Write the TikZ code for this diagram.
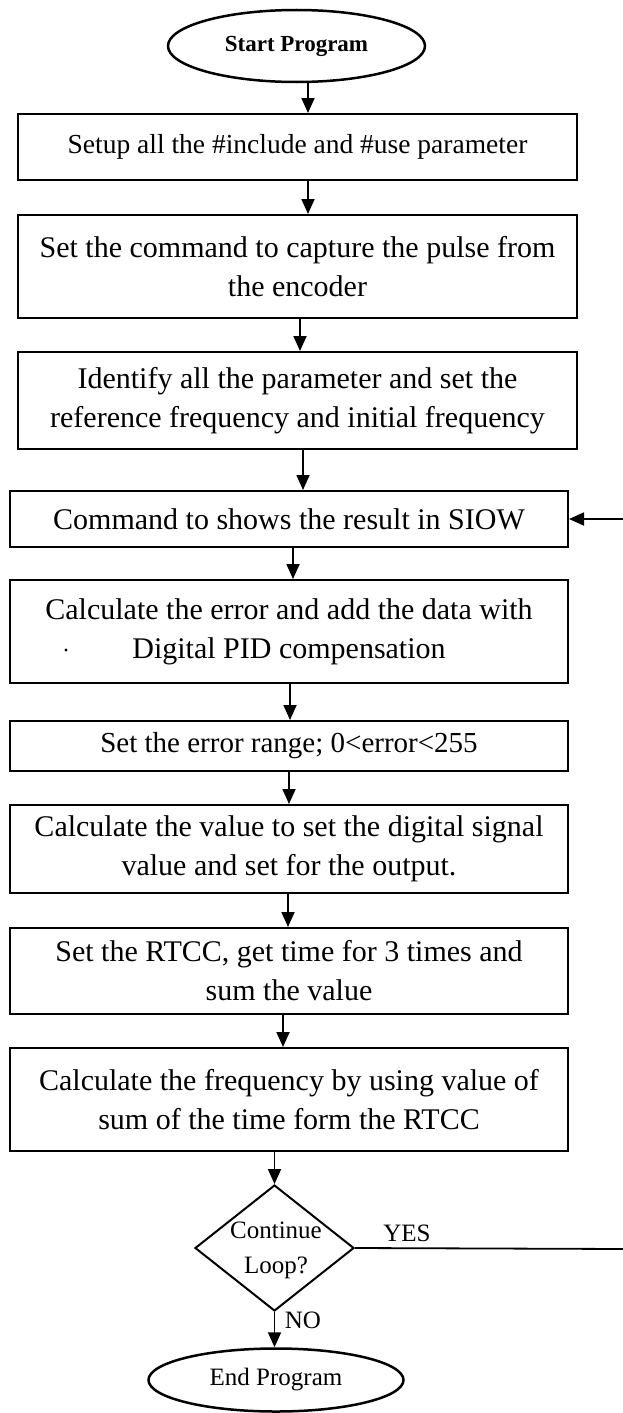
\documentclass[tikz,border=0pt]{standalone}
\usepackage{fontspec}
\setmainfont{Liberation Serif}
\usetikzlibrary{shapes.geometric,arrows.meta}
\begin{document}
\begin{tikzpicture}[x=1pt,y=-1pt,
  box/.style={draw,line width=2pt,rectangle,inner sep=0pt,align=center,font=\fontsize{30}{39}\selectfont},
  oval/.style={draw,line width=2.5pt,ellipse,inner sep=0pt},
  dec/.style={draw,line width=2pt,diamond,inner sep=0pt},
  arr/.style={line width=1.8pt,-{Triangle[length=15pt,width=13pt]}},
  lbl/.style={font=\fontsize{25}{35}\selectfont}]
\useasboundingbox (0,0) rectangle (623,1413);
\node[oval,minimum width=257pt,minimum height=72pt,font=\bfseries\fontsize{23}{28}\selectfont] (s) at (296.5,46) {Start Program};
\node[box,minimum width=559pt,minimum height=66pt,font=\fontsize{27.5}{36}\selectfont] (b1) at (297.5,147) {Setup all the \#include and \#use parameter};
\node[box,minimum width=559pt,minimum height=103pt] (b2) at (297.5,266.5) {Set the command to capture the pulse from\\the encoder};
\node[box,minimum width=559pt,minimum height=97pt] (b3) at (297.5,400.5) {Identify all the parameter and set the\\reference frequency and initial frequency};
\node[box,minimum width=558pt,minimum height=56pt] (b4) at (289,519) {Command to shows the result in SIOW};
\node[box,minimum width=558pt,minimum height=103pt] (b5) at (289,631.5) {Calculate the error and add the data with\\Digital PID compensation};
\node[box,minimum width=558pt,minimum height=50pt,font=\fontsize{29}{38}\selectfont] (b6) at (289,746) {Set the error range; 0<error<255};
\node[box,minimum width=558pt,minimum height=88pt] (b7) at (289,849) {Calculate the value to set the digital signal\\value and set for the output.};
\node[box,minimum width=558pt,minimum height=86pt] (b8) at (289,971) {Set the RTCC, get time for 3 times and\\sum the value};
\node[box,minimum width=558pt,minimum height=103pt] (b9) at (289,1099.5) {Calculate the frequency by using value of\\sum of the time form the RTCC};
\node[dec,minimum width=159pt,minimum height=126pt] (d) at (274.5,1248) {};
\node[lbl,align=center] (dt) at (276,1250) {Continue\\Loop?};
\node[oval,minimum width=255pt,minimum height=63pt,font=\fontsize{25}{30}\selectfont] (e) at (276,1380) {End Program};
\node[lbl] (yes) at (407,1233) {YES};
\node[lbl] (no) at (303,1320) {NO};
\fill (66,650) circle (1.6pt);
\coordinate (fb) at (627,1249);
\draw[arr] ([xshift=11.5pt]s.south) -- ([xshift=11.5pt]s.south |- b1.north);
\draw[arr] ([xshift=10.5pt]b1.south) -- ([xshift=10.5pt]b1.south |- b2.north);
\draw[arr] ([xshift=2.5pt]b2.south) -- ([xshift=2.5pt]b2.south |- b3.north);
\draw[arr] ([xshift=5.5pt]b3.south) -- ([xshift=5.5pt]b3.south |- b4.north);
\draw[arr] ([xshift=4pt]b4.south) -- ([xshift=4pt]b4.south |- b5.north);
\draw[arr] ([xshift=1pt]b5.south) -- ([xshift=1pt]b5.south |- b6.north);
\draw[arr] ([xshift=0pt]b6.south) -- ([xshift=0pt]b6.south |- b7.north);
\draw[arr] ([xshift=-1pt]b7.south) -- ([xshift=-1pt]b7.south |- b8.north);
\draw[arr] ([xshift=-6pt]b8.south) -- ([xshift=-6pt]b8.south |- b9.north);
\draw[arr] (b9.south -| d.north) -- (d.north);
\draw[arr] (d.south) -- (d.south |- e.north);
\draw[arr] (d.east) -- (fb) |- (b4.east);
\end{tikzpicture}
\end{document}
